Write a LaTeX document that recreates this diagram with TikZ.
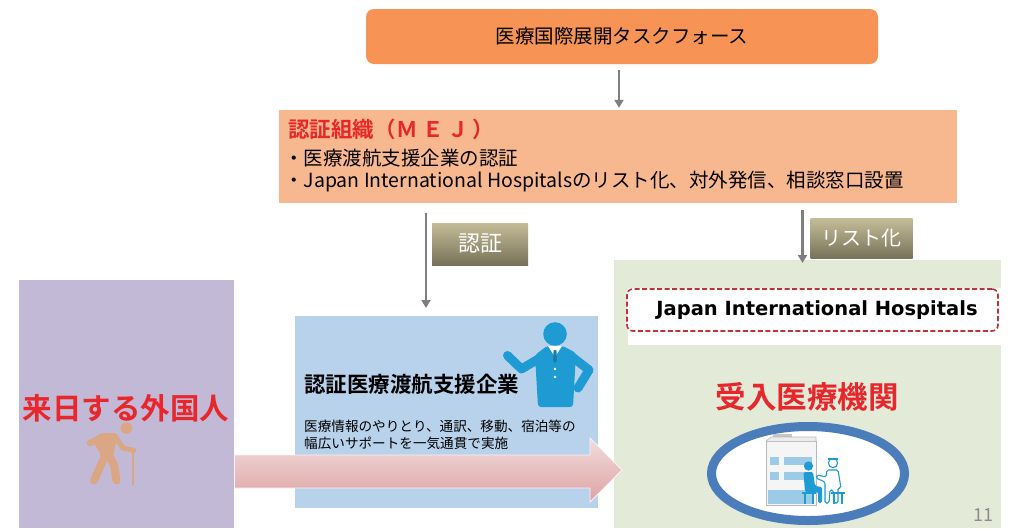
\documentclass[tikz,border=0pt]{standalone}
\usepackage{fontspec}
\setmainfont{Noto Sans CJK JP}[BoldFont={Noto Sans CJK JP Bold}]
\newfontfamily\hospfont{DejaVu Sans}
\usetikzlibrary{arrows.meta,shapes.geometric}

\definecolor{tforange}{HTML}{F79455}
\definecolor{mejfill}{HTML}{F8B88F}
\definecolor{titlered}{HTML}{E8272D}
\definecolor{tagtop}{HTML}{C4BC97}
\definecolor{tagbot}{HTML}{777159}
\definecolor{arrowgray}{HTML}{7F7F7F}
\definecolor{purplebg}{HTML}{C2B9D6}
\definecolor{bluebg}{HTML}{B9D2EC}
\definecolor{greenbg}{HTML}{E3EBD8}
\definecolor{dashred}{HTML}{C0313A}
\definecolor{ellblue}{HTML}{4A7DBA}
\definecolor{pinktop}{HTML}{F2DCDC}
\definecolor{pinkbot}{HTML}{DEA3A5}
\definecolor{walkertan}{HTML}{DBA684}
\definecolor{iconblue}{HTML}{1F9BD4}
\definecolor{winblue}{HTML}{9CCBE8}
\definecolor{pagegray}{HTML}{8C8C8C}

\tikzset{
  panel/.style={inner sep=0pt, draw=none},
  conn/.style={draw=arrowgray, line width=2.4pt, -{Triangle[length=8pt,width=9pt]}},
  tagbox/.style={top color=tagtop, bottom color=tagbot, draw=none, text=white, inner sep=0pt},
  leftline/.style={anchor=west, inner sep=0pt},
  limb/.style={line cap=round, line join=round},
}

\begin{document}
\begin{tikzpicture}[x=1pt,y=-1pt]
\useasboundingbox (0,0) rectangle (1011,528);

% task force
\node[panel, fill=tforange, rounded corners=8pt, minimum width=512, minimum height=55,
      font=\fontsize{19.5}{19.5}\selectfont] (tf) at (622,36.5) {医療国際展開タスクフォース};

% certification body
\node[panel, fill=mejfill, minimum width=678, minimum height=93] (mej) at (618,156.5) {};
\node[leftline, text=titlered, font=\bfseries\fontsize{21.5}{21.5}\selectfont] (mejtitle) at (288,129)
  {認証組織（\hspace{1pt}Ｍ\hspace{4pt}Ｅ\hspace{4pt}Ｊ\hspace{3pt}）};
\node[leftline, font=\fontsize{19.5}{19.5}\selectfont] (mejl1) at (284,158) {・医療渡航支援企業の認証};
\node[leftline, font=\fontsize{19.5}{19.5}\selectfont] (mejl2) at (284,182) {・Japan International Hospitalsのリスト化、対外発信、相談窓口設置};

% foreign visitors
\node[panel, fill=purplebg, anchor=north west, minimum width=215, minimum height=248] (visitor) at (19,280) {};
\node[text=titlered, font=\bfseries\fontsize{29.5}{29.5}\selectfont, inner sep=0pt] (visitortxt) at (126,408) {来日する外国人};

% certified agency
\node[panel, fill=bluebg, anchor=north west, minimum width=303, minimum height=192] (agency) at (295,316) {};
\node[leftline, font=\bfseries\fontsize{21.5}{21.5}\selectfont] (agencytitle) at (304,384) {認証医療渡航支援企業};
\node[leftline, align=left, font=\fontsize{13.6}{17}\selectfont] (agencybody) at (304,434.5)
  {医療情報のやりとり、通訳、移動、宿泊等の\\幅広いサポートを一気通貫で実施};

% receiving hospitals
\node[panel, fill=greenbg, anchor=north west, minimum width=387, minimum height=268] (recv) at (614,260) {};
\node[panel, fill=white, anchor=north west, minimum width=373, minimum height=57] (jihstrip) at (628,288) {};
\node[draw=dashred, fill=white, line width=1.6pt, dash pattern=on 5pt off 2.5pt, rounded corners=6pt,
      minimum width=371, minimum height=42, inner sep=0pt] (jih) at (812.5,310) {};
\node[font=\hospfont\bfseries\fontsize{19.5}{19.5}\selectfont, inner sep=0pt] (jihtxt) at (817,310) {Japan International Hospitals};
\node[text=titlered, font=\bfseries\fontsize{30.5}{30.5}\selectfont, inner sep=0pt] (recvtitle) at (807,397) {受入医療機関};
\node[draw=ellblue, line width=9pt, fill=white, ellipse, minimum width=193, minimum height=94, inner sep=0pt] (hosp) at (808,473.5) {};

% tags
\node[tagbox, minimum width=96, minimum height=42, font=\fontsize{22}{22}\selectfont] (tagcert) at (480,244) {認証};
\node[tagbox, minimum width=102, minimum height=40, font=\fontsize{20}{20}\selectfont] (taglist) at (861.5,238.5) {リスト化};

% connectors
\coordinate (certx) at (426,0);
\coordinate (listx) at (802.5,0);
\draw[conn] ([yshift=-6pt]tf.south -| mej.north) ++(1,0) coordinate (tfout) -- ([yshift=2pt]mej.north -| tfout);
\draw[conn] ([yshift=-10pt]mej.south -| certx) -- ([yshift=8pt]agency.north -| certx);
\draw[conn] ([yshift=-7pt]mej.south -| listx) -- ([yshift=-3pt]recv.north -| listx);

% block arrow from visitors to hospitals
\path[top color=pinktop, bottom color=pinkbot, draw=white!85!pinkbot, line width=0.8pt]
  (visitor.east |- 0,455) -- (590,455) -- (590,438) -- (622,470) -- (590,502) -- (590,488)
  -- (visitor.east |- 0,488) -- cycle;

% elderly walker
\begin{scope}[draw=walkertan, limb]
  \fill[walkertan] (126.5,428) circle (5.8);
  \fill[walkertan, rounded corners=3pt] (92,440) -- (101,433) -- (117,433) -- (113,458) -- (103,458) -- cycle;
  \draw[line width=12pt] (111,439) -- (106,454);
  \draw[line width=8pt] (105,456) -- (94,480.5);
  \draw[line width=8pt] (108,454) -- (114,465) -- (116.5,480.5);
  \draw[line width=6.5pt] (104,436) -- (90,443);
  \draw[line width=5pt] (115,436) -- (123,448) -- (134,450.5);
  \draw[line width=2pt, line cap=butt] (133,450.5) -- (133,484.5);
\end{scope}

% consultant figure
\fill[iconblue] (555,334) circle (11.8);
\fill[iconblue, rounded corners=3pt]
  (547,346) -- (563,346) -- (576,353) -- (573,407) -- (538,407) -- (535,355) -- cycle;
\draw[iconblue, limb, line width=9pt] (540,358) -- (521.5,369) -- (507.5,355.5);
\draw[iconblue, limb, line width=9pt] (571,356) -- (589,370) -- (578,388);
\fill[white] (548,346) -- (555,357) -- (562,346) -- cycle;
\fill[iconblue!80!black] (553.6,350) -- (556.4,350) -- (557,361) -- (555,363) -- (553,361) -- cycle;
\fill[white] (555,369) circle (1.3) (555,377) circle (1.3);

% hospital building
\fill[gray!45] (773,434) rectangle (792,440);
\draw[gray!55, fill=gray!8, line width=0.6pt] (766,441) rectangle (816,505);
\draw[gray!55, fill=gray!15, line width=0.6pt] (766,441) -- (771,437) -- (816,437) -- (816,441);
\foreach \yy in {457,472} {
  \fill[winblue] (770,\yy) rectangle (779,\yy+7.5);
  \fill[winblue] (784,\yy) rectangle (812,\yy+7.5);
}
\fill[winblue] (768,490) rectangle (814,504);
% patient
\fill[iconblue] (808.5,466) circle (4.6);
\fill[iconblue, rounded corners=1.5pt]
  (803.5,472) -- (813,472) -- (815,486) -- (822,487) -- (822,503) -- (818,503) -- (818,492)
  -- (805,492) -- cycle;
% doctor
\draw[iconblue, fill=white, line width=1.1pt] (833,463) circle (4.6);
\draw[iconblue, line width=1.8pt] (828,459) -- (838,459);
\draw[iconblue, fill=white, line width=1.1pt, rounded corners=1.5pt]
  (827,470) -- (838,470) -- (841,488) -- (838,488) -- (838,503) -- (834,503) -- (833,490)
  -- (830,490) -- (829,503) -- (825,503) -- (825,482) -- (816,478) -- (817,475) -- (826,477) -- cycle;
% stools
\draw[iconblue, line width=1.5pt] (802,493) -- (816,493) (805,493) -- (805,504) (813,493) -- (813,504);
\draw[iconblue, line width=1.5pt] (831,493) -- (845,493) (842,493) -- (842,504) (834,493) -- (834,504);

% page number
\node[text=pagegray, font=\fontsize{18}{18}\selectfont, inner sep=0pt] (pgno) at (983,515) {11};
\end{tikzpicture}
\end{document}
